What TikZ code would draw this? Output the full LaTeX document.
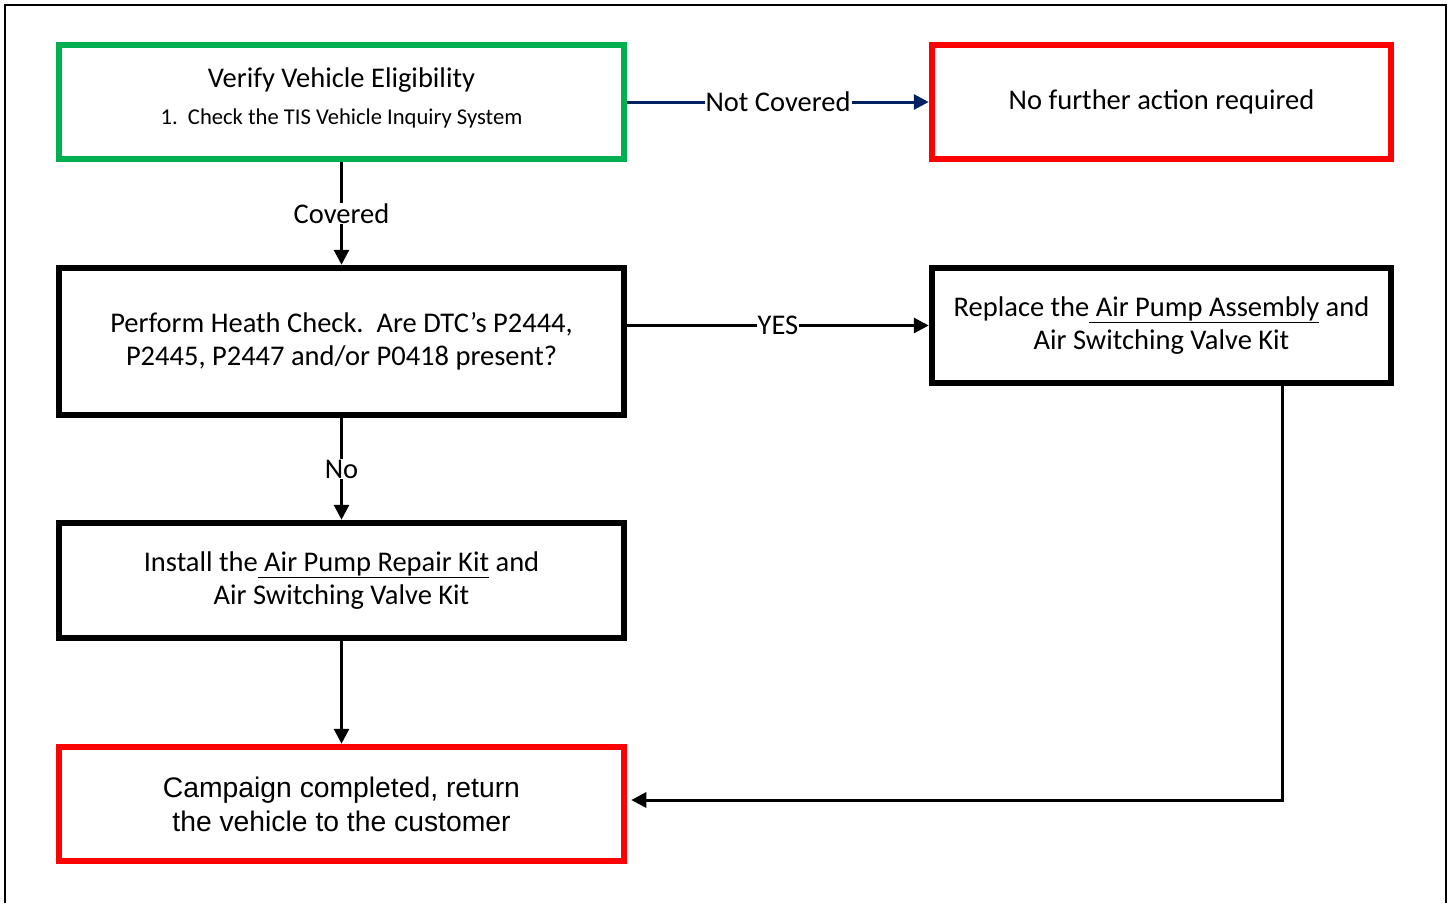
\documentclass[tikz,border=0pt]{standalone}
\usepackage{fontspec}
\setmainfont{Carlito}
\newfontfamily\arialf{Liberation Sans}
\usetikzlibrary{arrows.meta}
\definecolor{cgreen}{HTML}{00B050}
\definecolor{cred}{HTML}{FF0000}
\definecolor{cnavy}{HTML}{002060}
\begin{document}
\begin{tikzpicture}[x=1pt,y=-1pt,
  box/.style={draw, line width=6.5pt, minimum width=565pt, align=center, inner sep=0pt, outer sep=3.25pt, fill=white, font=\fontsize{28.5}{33}\selectfont},
  arr/.style={line width=3pt, -{Triangle[length=15pt,width=15pt]}},
  lbl/.style={fill=white, inner sep=1pt, font=\fontsize{28.5}{30}\selectfont}
]
\useasboundingbox (0,0) rectangle (1452,903);
\draw[line width=2pt] (5,903) -- (5,5) -- (1446,5) -- (1446,903);

\node[box, draw=cgreen, minimum height=114pt] (b1) at (341.5,102)
  {Verify Vehicle Eligibility\\[4pt]{\fontsize{22.6}{30}\selectfont 1.\ \ Check the TIS Vehicle Inquiry System}\\[-22pt]};
\node[box, draw=cred, minimum width=459pt, minimum height=114pt] (b2) at (1161.5,102)
  {No further action required};
\node[box, minimum height=147pt] (b3) at (341.5,341.5)
  {Perform Heath Check.\ \ Are DTC’s P2444,\\P2445, P2447 and/or P0418 present?};
\node[box, minimum width=459pt, minimum height=115pt] (b4) at (1161.5,325.5)
  {Replace the\underline{\ Air Pump Assembly} and\\Air Switching Valve Kit};
\node[box, minimum height=115pt] (b5) at (341.5,580.5)
  {Install the\underline{\ Air Pump Repair Kit} and\\Air Switching Valve Kit};
\node[box, draw=cred, minimum height=114pt, font=\arialf\fontsize{28.3}{34}\selectfont] (b6) at (341.5,804)
  {Campaign completed, return\\the vehicle to the customer};

\draw[arr, draw=cnavy, fill=cnavy] (b1) -- node[lbl]{Not Covered} (b2);
\draw[arr] (b1) -- node[lbl]{Covered} (b3);
\draw[arr] (b3) -- node[lbl]{No} (b5);
\draw[arr] (b5) -- (b6);
\draw[arr] (b4.west -| b3.east) -- node[lbl]{YES} (b4.west);
\coordinate (c1) at (1282,800);
\draw[arr, shorten >=4pt] (b4.south -| c1) |- (b6.east |- c1);
\end{tikzpicture}
\end{document}
